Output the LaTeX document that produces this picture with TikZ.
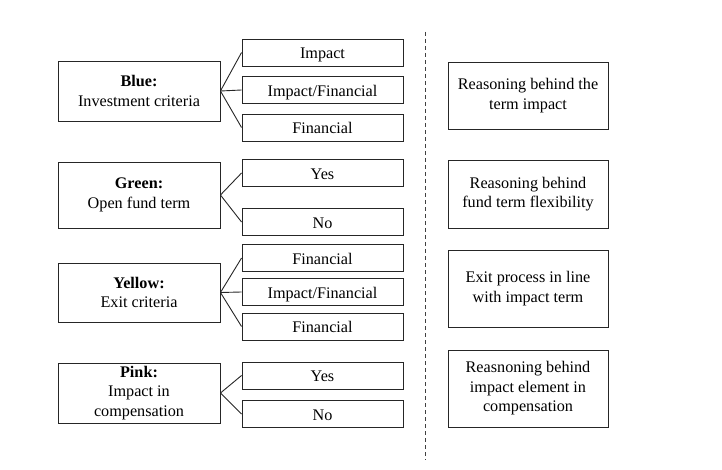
\documentclass[tikz,border=0pt]{standalone}
\usepackage{fontspec}
\setmainfont{Liberation Serif}
\usetikzlibrary{positioning}

\begin{document}
\begin{tikzpicture}[
      x=1pt, y=-1pt,
      font=\fontsize{16.2}{19.6}\selectfont,
      box/.style = {draw=black!85, line width=0.9pt, inner sep=2pt},
      mainbox/.style = {box, align=center, minimum width=162pt},
      sub/.style = {box, minimum width=161pt, minimum height=27pt, text height=13.5pt, text depth=0.8pt},
      note/.style = {box, align=center, minimum width=160pt},
      fork/.style = {draw=black!85, line width=0.9pt},
      sep/.style = {draw=black!75, line width=0.9pt, dash pattern=on 4pt off 3pt}
      ]
      \useasboundingbox (0,0) rectangle (722,470);

      % left column
      \node[mainbox, minimum height=60pt] (blue) at (139,91) {\textbf{Blue:}\\Investment criteria};
      \node[mainbox, minimum height=66pt] (green) at (139,195) {\textbf{Green:}\\Open fund term};
      \node[mainbox, minimum height=59pt] (yellow) at (139,292.5) {\textbf{Yellow:}\\Exit criteria};
      \node[mainbox, minimum height=60pt] (pink) at (139,393) {\textbf{Pink:}\\Impact in\\compensation};

      % options
      \node[sub] (b1) at (322.5,52.5) {Impact};
      \node[sub] (b2) at (322.5,90) {Impact/Financial};
      \node[sub] (b3) at (322.5,127.5) {Financial};
      \node[sub] (g1) at (322.5,173) {Yes};
      \node[sub] (g2) at (322.5,222) {No};
      \node[sub] (y1) at (322.5,258) {Financial};
      \node[sub] (y2) at (322.5,292) {Impact/Financial};
      \node[sub] (y3) at (322.5,326.5) {Financial};
      \node[sub] (p1) at (322.5,375.5) {Yes};
      \node[sub] (p2) at (322.5,414) {No};

      \path[fork] (blue.east) edge (b1.west) edge (b2.west) edge (b3.west);
      \path[fork] (green.east) edge (g1.west) edge (g2.west);
      \path[fork] (yellow.east) edge (y1.west) edge (y2.west) edge (y3.west);
      \path[fork] (pink.east) edge (p1.west) edge (p2.west);

      % divider
      \coordinate (top) at (425,32);
      \coordinate (bot) at (425,460);
      \draw[sep] (top) -- (bot);

      % right column
      \node[note, minimum height=67pt] (r1) at (528,95.5) {Reasoning behind the\\term impact};
      \node[note, minimum height=68pt] (r2) at (528,194) {Reasoning behind\\fund term flexibility};
      \node[note, minimum height=77pt] (r3) at (528,288.5) {Exit process in line\\with impact term};
      \node[note, minimum height=77pt] (r4) at (528,388.5) {Reasnoning behind\\impact element in\\compensation};
    \end{tikzpicture}
\end{document}
